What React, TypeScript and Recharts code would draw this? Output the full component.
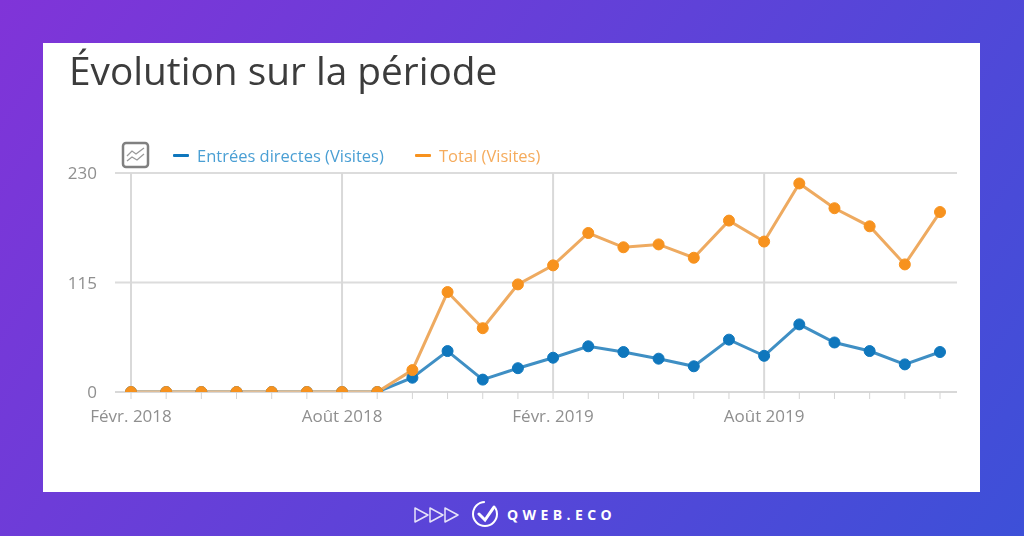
import React from "react"
import { LineChart, Line, XAxis, YAxis, CartesianGrid, Legend, ReferenceLine } from "recharts"

const months = [
  "Févr. 2018", "Mars 2018", "Avr. 2018", "Mai 2018", "Juin 2018", "Juil. 2018",
  "Août 2018", "Sept. 2018", "Oct. 2018", "Nov. 2018", "Déc. 2018", "Janv. 2019",
  "Févr. 2019", "Mars 2019", "Avr. 2019", "Mai 2019", "Juin 2019", "Juil. 2019",
  "Août 2019", "Sept. 2019", "Oct. 2019", "Nov. 2019", "Déc. 2019", "Janv. 2020",
]
const directes = [0, 0, 0, 0, 0, 0, 0, 0, 15, 43, 13, 25, 36, 48, 42, 35, 27, 55, 38, 71, 52, 43, 29, 42]
const total = [0, 0, 0, 0, 0, 0, 0, 0, 23, 105, 67, 113, 133, 167, 152, 155, 141, 180, 158, 219, 193, 174, 134, 189]
const labelledMonths = ["Févr. 2018", "Août 2018", "Févr. 2019", "Août 2019"]
const yTicks = [0, 115, 230]

const BLUE = "#0f77bd"
const ORANGE = "#f7921e"

const data = months.map((month, i) => ({ month, directes: directes[i], total: total[i] }))

function ChartLegend() {
  const items = [
    { label: "Entrées directes (Visites)", color: BLUE, text: "#4a9fd4", width: 187 },
    { label: "Total (Visites)", color: ORANGE, text: "#f5ab5c", width: 103 },
  ]
  return (
    <div style={{ display: "flex", fontFamily: "'Open Sans', sans-serif", fontSize: 16.5, whiteSpace: "nowrap" }}>
      {items.map((it) => (
        <div key={it.label} style={{ display: "flex", alignItems: "center", marginRight: 31 }}>
          <span style={{ width: 16, height: 3, background: it.color, marginRight: 8, borderRadius: 1 }} />
          <span style={{ color: it.text, display: "inline-block", width: it.width }}>{it.label}</span>
        </div>
      ))}
    </div>
  )
}

function Footer() {
  return (
    <svg width={1024} height={44} style={{ position: "absolute", left: 0, top: 492 }}>
      <g fill="none" stroke="#fff" strokeWidth={1.5} strokeLinejoin="round" opacity={0.85}>
        <path d="M415 16 L428 23 L415 30 Z" />
        <path d="M430 16 L443 23 L430 30 Z" />
        <path d="M445 16 L458 23 L445 30 Z" />
      </g>
      <g fill="none" stroke="#fff">
        <circle cx={485} cy={22} r={12} strokeWidth={2} strokeDasharray="56 12" />
        <path d="M479 22 L485 28 L494 15" strokeWidth={3} strokeLinecap="round" />
      </g>
      <text x={507} y={28} fill="#fff" fontFamily="'Open Sans', sans-serif" fontWeight={700} fontSize={14} letterSpacing={4.4}>
        QWEB.ECO
      </text>
    </svg>
  )
}

export default function App() {
  return (
    <div
      style={{
        position: "absolute",
        left: 0,
        top: 0,
        width: 1024,
        height: 536,
        overflow: "hidden",
        background: "linear-gradient(125deg, #8034d8 0%, #5f42d8 50%, #3d50d8 100%)",
      }}
    >
      <div style={{ position: "absolute", left: 43, top: 43, width: 937, height: 449, background: "#fff" }} />
      <div style={{ position: "absolute", left: 0, top: 0, width: 1024, height: 536, filter: "blur(0.6px)" }}>
        <div
          style={{
            position: "absolute",
            left: 69,
            top: 44,
            fontFamily: "'Open Sans', sans-serif",
            fontSize: 38.8,
            lineHeight: "52px",
            color: "#3c3c3c",
            whiteSpace: "nowrap",
          }}
        >
          Évolution sur la période
        </div>
        <svg width={30} height={28} style={{ position: "absolute", left: 121, top: 141 }}>
          <rect x={2} y={2} width={25} height={24} rx={3} fill="#fff" stroke="#808080" strokeWidth={2.5} />
          <path d="M6 15 L11 10 L15 13 L23 7" fill="none" stroke="#999" strokeWidth={1.3} />
          <path d="M6 20 L11 16 L16 19 L23 13" fill="none" stroke="#999" strokeWidth={1.3} />
        </svg>
        <div style={{ position: "absolute", left: 0, top: 0 }}>
          <LineChart width={1024} height={536} data={data} margin={{ top: 173, right: 67, bottom: 114, left: 70 }}>
            <CartesianGrid vertical={false} stroke="#dcdcdc" strokeWidth={2} />
            {labelledMonths.map((m) => (
              <ReferenceLine key={m} x={m} stroke="#d9d9d9" strokeWidth={2} />
            ))}
            <XAxis
              dataKey="month"
              interval={0}
              padding={{ left: 16, right: 17 }}
              stroke="#d4d4d4"
              tickLine={{ stroke: "#d4d4d4" }}
              tickSize={7}
              tick={{ fill: "#8f8f8f", fontSize: 17, fontFamily: "'Open Sans', sans-serif" }}
              tickFormatter={(m: string) => (labelledMonths.includes(m) ? m : "")}
              tickMargin={11}
            />
            <YAxis
              width={45}
              domain={[0, 230]}
              ticks={yTicks}
              allowDataOverflow
              axisLine={false}
              tickLine={false}
              tick={{ fill: "#8f8f8f", fontSize: 17, fontFamily: "'Open Sans', sans-serif" }}
              tickMargin={12}
            />
            <Legend
              layout="horizontal"
              verticalAlign="middle"
              align="center"
              content={<ChartLegend />}
              wrapperStyle={{ left: 173, top: 144, width: 500, height: 24 }}
            />
            <Line
              dataKey="directes"
              name="Entrées directes (Visites)"
              stroke="#3f8fc4"
              strokeWidth={3}
              dot={{ r: 5.5, fill: BLUE, stroke: BLUE, strokeWidth: 1, fillOpacity: 1, clipDot: true }}
              isAnimationActive={false}
            />
            <Line
              dataKey="total"
              name="Total (Visites)"
              stroke="#eeaa60"
              strokeWidth={3}
              dot={{ r: 5.5, fill: ORANGE, stroke: ORANGE, strokeWidth: 1, fillOpacity: 1, clipDot: true }}
              isAnimationActive={false}
            />
          </LineChart>
        </div>
      </div>
      <Footer />
    </div>
  )
}
